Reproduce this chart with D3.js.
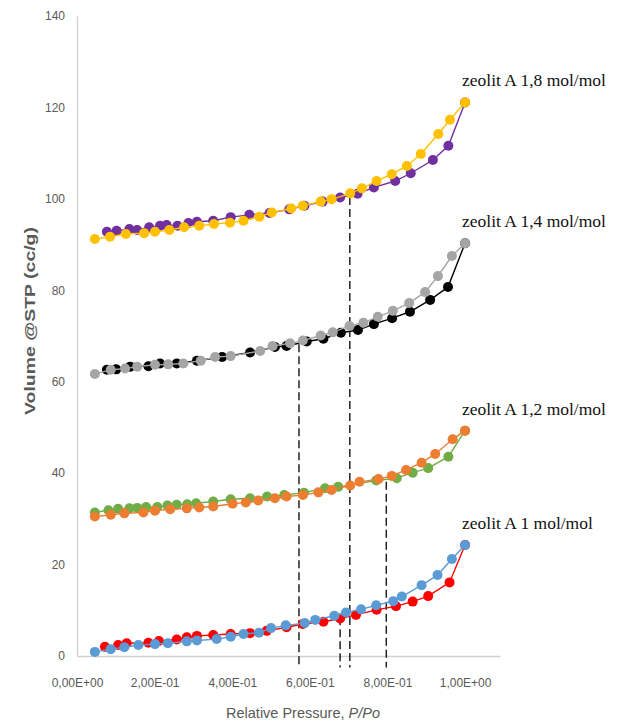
<!DOCTYPE html>
<html>
<head>
<meta charset="utf-8">
<script src="https://cdn.jsdelivr.net/npm/d3@7"></script>
<style>
  body { margin: 0; background: #fff; }
  .axis text { font-family: "Liberation Sans", Arial, sans-serif; font-size: 12px; fill: #595959; }
  .axis path { stroke: #d0d0d0; stroke-width: 1.3px; }
  .series-line { fill: none; stroke-width: 1.4px; }
  .sample-label { font-family: "Liberation Serif", "Times New Roman", serif; font-size: 17.5px; fill: #111; }
  .dash-line { stroke: #222; stroke-width: 1.5px; stroke-dasharray: 8 4; }
</style>
</head>
<body>
<svg id="chart" width="626" height="726"></svg>
<script>
// axis ticks
var xTicks = [0, 0.2, 0.4, 0.6, 0.8, 1.0];
var xTickLabels = ["0,00E+00", "2,00E-01", "4,00E-01", "6,00E-01", "8,00E-01", "1,00E+00"];
var yTicks = [0, 20, 40, 60, 80, 100, 120, 140];

// zeolit A 1 mol/mol
var redPressure = [0.072, 0.106, 0.128, 0.184, 0.211, 0.257, 0.283, 0.309, 0.351, 0.396, 0.446, 0.489, 0.540, 0.582, 0.635, 0.678, 0.719, 0.772, 0.822, 0.865, 0.905, 0.960, 1.0];
var redVolume = [2.0, 2.4, 2.8, 2.9, 3.3, 3.6, 4.1, 4.4, 4.6, 4.8, 5.0, 5.5, 6.3, 7.0, 7.5, 8.2, 9.0, 10.1, 10.9, 11.9, 13.1, 16.1, 24.3];
var bluePressure = [0.046, 0.087, 0.122, 0.158, 0.201, 0.234, 0.283, 0.309, 0.360, 0.396, 0.429, 0.469, 0.500, 0.538, 0.587, 0.614, 0.663, 0.693, 0.732, 0.771, 0.815, 0.837, 0.888, 0.929, 0.966, 1.0];
var blueVolume = [0.9, 1.5, 1.9, 2.4, 2.6, 2.8, 3.2, 3.4, 3.7, 4.2, 4.8, 5.1, 6.1, 6.7, 7.2, 7.9, 8.8, 9.5, 10.2, 11.1, 12.0, 13.0, 15.5, 17.7, 21.2, 24.3];

// zeolit A 1,2 mol/mol
var greenPressure = [0.046, 0.081, 0.106, 0.135, 0.155, 0.178, 0.207, 0.233, 0.257, 0.284, 0.307, 0.351, 0.396, 0.446, 0.490, 0.534, 0.585, 0.639, 0.673, 0.771, 0.824, 0.865, 0.905, 0.957, 1.0];
var greenVolume = [31.4, 31.9, 32.2, 32.3, 32.4, 32.6, 32.6, 32.9, 33.1, 33.2, 33.4, 33.8, 34.3, 34.5, 34.9, 35.2, 35.7, 36.7, 37.0, 38.4, 38.9, 40.1, 41.1, 43.6, 49.3];
var orangePressure = [0.046, 0.087, 0.122, 0.171, 0.201, 0.240, 0.283, 0.315, 0.351, 0.401, 0.435, 0.467, 0.510, 0.540, 0.582, 0.622, 0.656, 0.704, 0.728, 0.777, 0.811, 0.848, 0.888, 0.923, 0.968, 1.0];
var orangeVolume = [30.5, 30.9, 31.2, 31.4, 31.8, 32.1, 32.3, 32.5, 32.7, 33.3, 33.6, 34.0, 34.5, 34.9, 35.2, 35.8, 36.3, 37.3, 38.1, 38.7, 39.4, 40.7, 42.3, 44.2, 47.4, 49.3];

// zeolit A 1,4 mol/mol
var blackPressure = [0.077, 0.101, 0.137, 0.184, 0.214, 0.257, 0.309, 0.374, 0.446, 0.510, 0.540, 0.592, 0.635, 0.680, 0.724, 0.765, 0.812, 0.858, 0.910, 0.956, 1.0];
var blackVolume = [62.6, 62.7, 63.3, 63.4, 64.0, 64.0, 64.6, 65.4, 66.4, 67.6, 67.8, 68.8, 69.4, 70.7, 71.3, 72.6, 73.9, 75.3, 77.9, 80.7, 90.3];
var greyPressure = [0.046, 0.087, 0.124, 0.155, 0.201, 0.235, 0.274, 0.319, 0.356, 0.396, 0.472, 0.504, 0.549, 0.582, 0.628, 0.659, 0.702, 0.738, 0.775, 0.814, 0.856, 0.897, 0.930, 0.966, 1.0];
var greyVolume = [61.7, 62.6, 62.9, 63.3, 63.7, 63.8, 64.0, 64.6, 65.4, 65.6, 66.7, 67.8, 68.4, 69.0, 70.1, 70.8, 72.2, 72.9, 74.2, 75.5, 77.2, 79.6, 83.1, 87.5, 90.3];

// zeolit A 1,8 mol/mol
var purplePressure = [0.077, 0.102, 0.135, 0.155, 0.186, 0.214, 0.231, 0.259, 0.287, 0.309, 0.351, 0.396, 0.444, 0.496, 0.547, 0.586, 0.633, 0.678, 0.723, 0.765, 0.820, 0.860, 0.917, 0.957, 1.0];
var purpleVolume = [92.8, 93.0, 93.4, 93.2, 93.8, 94.1, 94.3, 94.1, 94.7, 95.0, 95.2, 96.0, 96.5, 96.9, 97.7, 98.5, 99.4, 100.3, 101.1, 102.5, 103.9, 105.6, 108.5, 111.6, 121.1];
var yellowPressure = [0.046, 0.085, 0.126, 0.173, 0.201, 0.238, 0.276, 0.315, 0.353, 0.394, 0.429, 0.470, 0.502, 0.552, 0.582, 0.628, 0.656, 0.704, 0.734, 0.772, 0.811, 0.850, 0.886, 0.931, 0.961, 1.0];
var yellowVolume = [91.2, 91.7, 92.3, 92.5, 92.8, 93.2, 93.8, 94.1, 94.5, 94.8, 95.2, 96.1, 97.0, 97.9, 98.5, 99.4, 99.9, 101.2, 102.3, 103.9, 105.4, 107.2, 109.8, 114.2, 117.3, 121.1];

var sampleLabels = ["zeolit A 1 mol/mol", "zeolit A 1,2 mol/mol", "zeolit A 1,4 mol/mol", "zeolit A 1,8 mol/mol"];

// vertical dashed guides
var dashPressure = [0.572, 0.678, 0.703, 0.797];
var dashTopVolume = [68.2, 8.5, 100.4, 38.1];

function asId(name) { return "#" + name; }

function IsothermChart(options) {
  var $$ = this;
  $$.options = options;
  $$.svg = d3.select(asId(options.container));
  $$.left = 77;
  $$.top = 16;
  $$.bottom = 656;
  $$.right = 500;

  $$.xScale = d3.scaleLinear().domain([0, 1.09]).range([$$.left, $$.right]);
  $$.yScale = d3.scaleLinear().domain([0, 140]).range([$$.bottom, $$.top]);

  $$.drawAxes = function () {
    var xAxis = d3.axisBottom($$.xScale)
      .tickValues(xTicks)
      .tickFormat(function (d, i) { return xTickLabels[i]; })
      .tickSize(0)
      .tickSizeOuter(0)
      .tickPadding(22);
    $$.svg.append("g")
      .attr("class", "axis x-axis")
      .attr("transform", "translate(0," + $$.bottom + ")")
      .call(xAxis);

    var yAxis = d3.axisLeft($$.yScale)
      .tickValues(yTicks)
      .tickSize(0)
      .tickSizeOuter(0)
      .tickPadding(12);
    $$.svg.append("g")
      .attr("class", "axis y-axis")
      .attr("transform", "translate(" + $$.left + ",0)")
      .call(yAxis);

    // axis titles
    $$.svg.append("text")
      .attr("transform", "translate(35,321) rotate(-90)")
      .attr("text-anchor", "middle")
      .attr("textLength", 188)
      .attr("lengthAdjust", "spacingAndGlyphs")
      .style("font-family", "'Liberation Sans', Arial, sans-serif")
      .style("font-size", "14px")
      .style("font-weight", "bold")
      .style("fill", "#595959")
      .text("Volume @STP (cc/g)");

    var xTitle = $$.svg.append("text")
      .attr("x", 303)
      .attr("y", 718)
      .attr("text-anchor", "middle")
      .style("font-family", "'Liberation Sans', Arial, sans-serif")
      .style("font-size", "14.5px")
      .style("fill", "#595959");
    xTitle.append("tspan").text("Relative Pressure, ");
    xTitle.append("tspan").style("font-style", "italic").text("P/Po");
  };

  $$.drawDashes = function () {
    var dashes = dashPressure.map(function (p, i) {
      return { p: p, top: dashTopVolume[i] };
    });
    $$.svg.selectAll("line.dash-line")
      .data(dashes)
      .enter()
      .append("line")
      .attr("class", "dash-line")
      .attr("x1", function (d) { return $$.xScale(d.p); })
      .attr("x2", function (d) { return $$.xScale(d.p); })
      .attr("y1", function (d) { return $$.yScale(d.top); })
      .attr("y2", $$.yScale(-2.5));
  };

  $$.drawSeries = function (name, pressure, volume, color) {
    var points = pressure.map(function (p, i) { return [p, volume[i]]; });
    var line = d3.line()
      .x(function (d) { return $$.xScale(d[0]); })
      .y(function (d) { return $$.yScale(d[1]); });

    var g = $$.svg.append("g").attr("class", "series " + name);
    g.append("path")
      .datum(points)
      .attr("class", "series-line")
      .attr("d", line)
      .style("stroke", color);
    g.selectAll("circle")
      .data(points)
      .enter()
      .append("circle")
      .attr("cx", function (d) { return $$.xScale(d[0]); })
      .attr("cy", function (d) { return $$.yScale(d[1]); })
      .attr("r", 5)
      .style("fill", color);
  };

  $$.drawLabels = function (ends) {
    $$.svg.selectAll("text.sample-label")
      .data(sampleLabels)
      .enter()
      .append("text")
      .attr("class", "sample-label")
      .attr("x", function (d, i) { return $$.xScale(ends[i][0]) - 3; })
      .attr("y", function (d, i) { return $$.yScale(ends[i][1]) - 16; })
      .text(function (d) { return d; });
  };

  $$.draw = function () {
    $$.drawAxes();
    $$.drawDashes();
    $$.drawSeries("red", redPressure, redVolume, "#ff0000");
    $$.drawSeries("blue", bluePressure, blueVolume, "#5b9bd5");
    $$.drawSeries("green", greenPressure, greenVolume, "#70ad47");
    $$.drawSeries("orange", orangePressure, orangeVolume, "#ed7d31");
    $$.drawSeries("black", blackPressure, blackVolume, "#000000");
    $$.drawSeries("grey", greyPressure, greyVolume, "#a5a5a5");
    $$.drawSeries("purple", purplePressure, purpleVolume, "#7030a0");
    $$.drawSeries("yellow", yellowPressure, yellowVolume, "#ffc000");
    $$.drawLabels([
      [redPressure[redPressure.length - 1], redVolume[redVolume.length - 1]],
      [greenPressure[greenPressure.length - 1], greenVolume[greenVolume.length - 1]],
      [blackPressure[blackPressure.length - 1], blackVolume[blackVolume.length - 1]],
      [purplePressure[purplePressure.length - 1], purpleVolume[purpleVolume.length - 1]]
    ]);
  };
}

var chart = new IsothermChart({ container: "chart" });
chart.draw();
</script>
</body>
</html>
